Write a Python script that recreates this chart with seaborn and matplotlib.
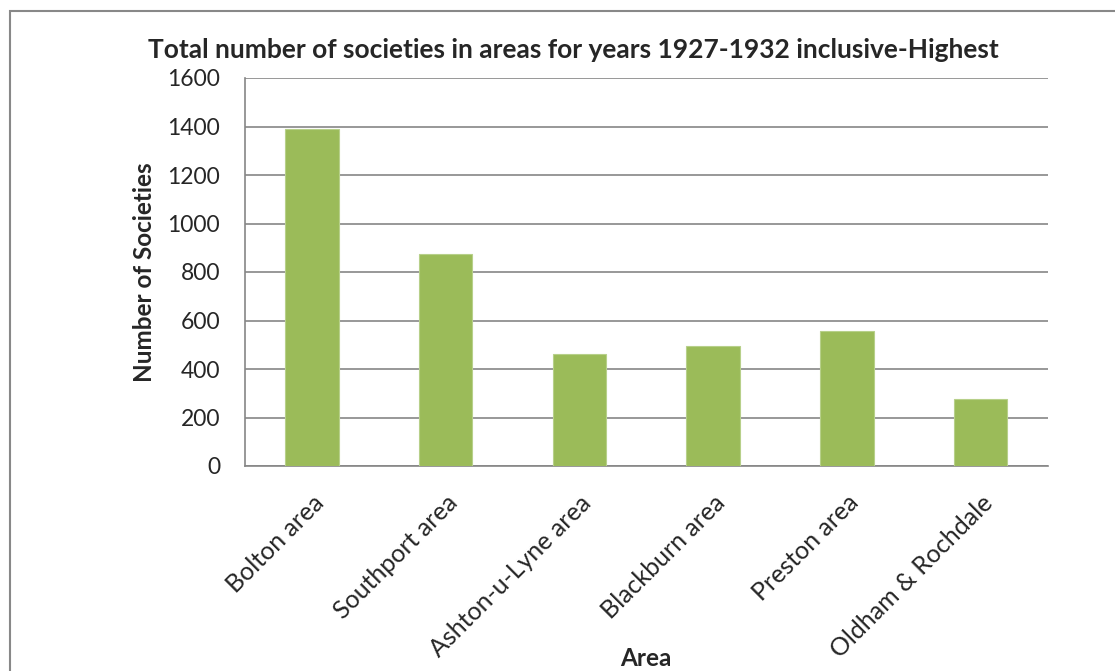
import matplotlib
matplotlib.use("Agg")
import matplotlib.pyplot as plt
import seaborn as sns
import pandas as pd
from matplotlib.patches import Rectangle

areas = ["Bolton area", "Southport area", "Ashton-u-Lyne area", "Blackburn area", "Preston area", "Oldham & Rochdale"]
societies = [1388, 874, 463, 496, 555, 278]
y_ticks = [0, 200, 400, 600, 800, 1000, 1200, 1400, 1600]

df = pd.DataFrame({"Area": areas, "Societies": societies})

sns.set_theme(style="white")
plt.rcParams["font.family"] = ["Lato", "DejaVu Sans"]

fig = plt.figure(figsize=(11.15, 6.71), dpi=100)
fig.patch.set_facecolor("white")
W, H = 1115, 671
ax = fig.add_axes([245 / W, 1 - 466 / H, (1047.5 - 245) / W, (466 - 78) / H])

sns.barplot(data=df, x="Area", y="Societies", color="#9BBB59", width=0.4,
            saturation=1, ax=ax, edgecolor="#b7d08a", linewidth=0.8, zorder=3)

ax.set_ylim(0, 1600)
ax.set_xlim(-0.5, len(areas) - 0.5)
ax.set_yticks(y_ticks)
ax.set_yticklabels([str(v) for v in y_ticks], fontsize=16.5)
ax.yaxis.grid(True, color="#868686", linewidth=1.2, zorder=0)
ax.set_axisbelow(True)

ax.set_xticks(range(len(areas)))
ax.set_xticklabels(areas, rotation=45, ha="right", rotation_mode="anchor", fontsize=18)
ax.set_xticks([i - 0.5 for i in range(len(areas) + 1)], minor=True)
ax.tick_params(axis="x", which="major", length=0, pad=18)
ax.tick_params(axis="x", which="minor", length=6, width=1.2, color="#868686", direction="out")
ax.tick_params(axis="y", which="major", length=6, width=1.2, color="#868686", direction="out", pad=12)

for s in ["top", "right"]:
    ax.spines[s].set_visible(False)
for s in ["left", "bottom"]:
    ax.spines[s].set_color("#868686")
    ax.spines[s].set_linewidth(1.2)

ax.set_xlabel("")
ax.set_ylabel("")
fig.text(145 / W, 1 - 272 / H, "Number of Societies", rotation=90, ha="center", va="center",
         fontsize=17.5, fontweight="bold")
fig.text(646 / W, 1 - 659 / H, "Area", ha="center", va="center", fontsize=17.5, fontweight="bold")
fig.text(573 / W, 1 - 50 / H, "Total number of societies in areas for years 1927-1932 inclusive-Highest",
         ha="center", va="center", fontsize=19, fontweight="bold")

fig.patches.append(Rectangle((10 / W, -0.05), 1.2, 1 - 11 / H + 0.05, transform=fig.transFigure,
                             fill=False, edgecolor="#888888", linewidth=1.5))

fig.savefig("out.png", dpi=100, facecolor="white")
